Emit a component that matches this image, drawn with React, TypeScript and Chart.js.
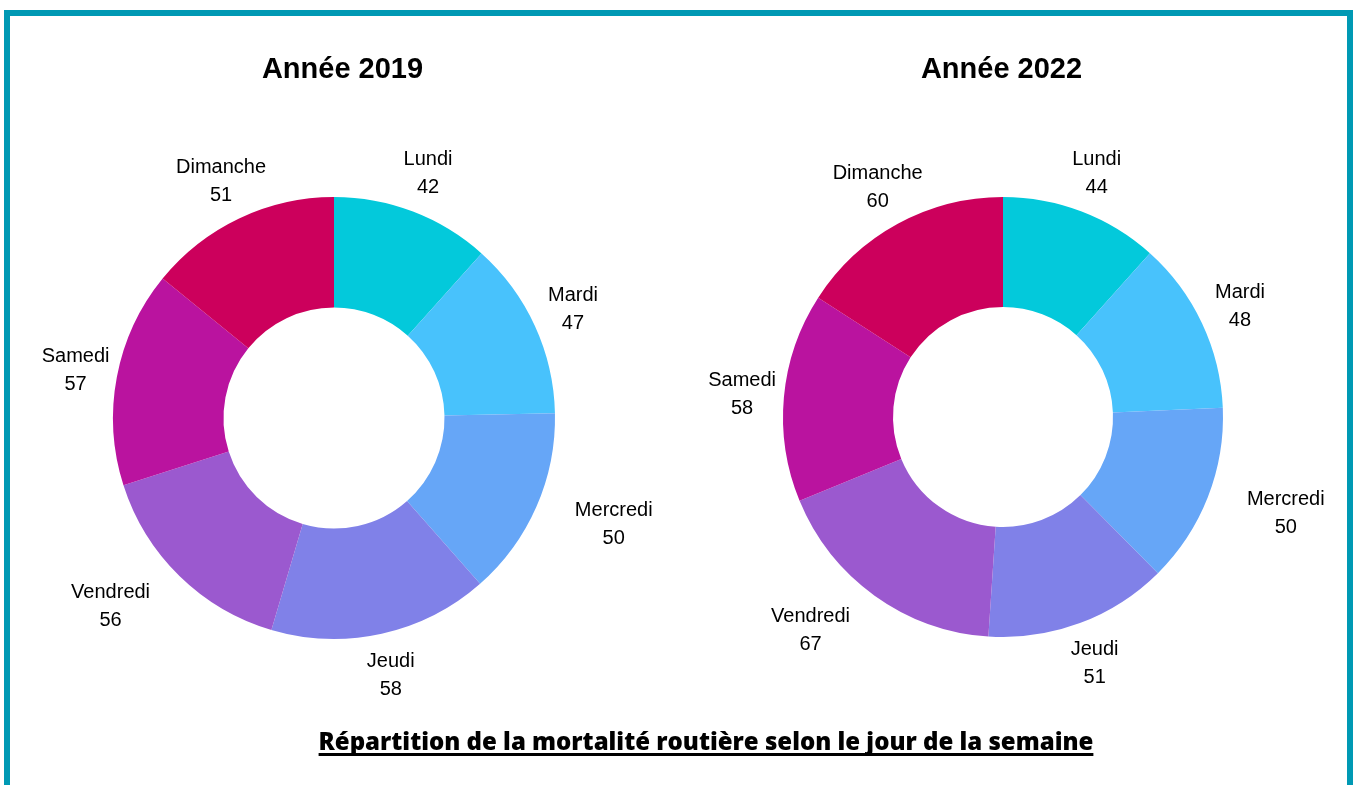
import React, { useEffect, useRef } from "react";
import { Chart, registerables } from "chart.js";

Chart.register(...registerables);

const days = ["Lundi", "Mardi", "Mercredi", "Jeudi", "Vendredi", "Samedi", "Dimanche"];
const values2019 = [42, 47, 50, 58, 56, 57, 51];
const values2022 = [44, 48, 50, 51, 67, 58, 60];
const dayColors = ["#03C9DB", "#48C2FC", "#66A6F7", "#8081E8", "#9B59CF", "#BA139F", "#CC005C"];

const LABEL_FONT = '20px "Liberation Sans", Arial, sans-serif';

const outsideLabels = {
  id: "outsideLabels",
  afterDatasetsDraw(chart: any) {
    const ctx = chart.ctx;
    const meta = chart.getDatasetMeta(0);
    const data = chart.data.datasets[0].data;
    const labels = chart.data.labels;
    ctx.save();
    ctx.font = LABEL_FONT;
    ctx.fillStyle = "#000";
    ctx.textBaseline = "middle";
    ctx.textAlign = "center";
    meta.data.forEach((arc: any, i: number) => {
      const p = arc.getProps(["startAngle", "endAngle", "x", "y", "outerRadius"], true);
      const mid = (p.startAngle + p.endAngle) / 2;
      const r = p.outerRadius + 42;
      let ax = p.x + Math.cos(mid) * r;
      const ay = p.y + Math.sin(mid) * r;
      let deg = ((mid + Math.PI / 2) * 180) / Math.PI;
      deg = ((deg % 360) + 360) % 360;
      const lines = [String(labels[i]), String(data[i])];
      const w = Math.max(...lines.map((l) => ctx.measureText(l).width));
      if (deg > 90 && deg < 150) ax += w / 2;
      else if (deg > 210 && deg < 270) ax -= w / 2;
      ctx.fillText(lines[0], ax, ay - 13);
      ctx.fillText(lines[1], ax, ay + 15);
    });
    ctx.restore();
  },
};

function Donut(props: { values: number[]; width: number; padding: any; left: number }) {
  const ref = useRef<HTMLCanvasElement>(null);
  useEffect(() => {
    if (!ref.current) return;
    const chart = new Chart(ref.current, {
      type: "doughnut",
      data: {
        labels: days,
        datasets: [
          {
            data: props.values,
            backgroundColor: dayColors,
            borderWidth: 0,
            hoverOffset: 0,
            offset: 0,
          },
        ],
      },
      options: {
        responsive: false,
        animation: false,
        cutout: "50%",
        layout: { padding: props.padding },
        plugins: { legend: { display: false }, tooltip: { enabled: false }, title: { display: false } },
      },
      plugins: [outsideLabels],
    });
    return () => chart.destroy();
  }, []);
  return (
    <canvas
      ref={ref}
      width={props.width}
      height={785}
      style={{ position: "absolute", left: props.left, top: 0, width: props.width, height: 785 }}
    />
  );
}

export default function App() {
  const titleStyle: React.CSSProperties = {
    position: "absolute",
    top: 52,
    height: 32,
    lineHeight: "32px",
    textAlign: "center",
    font: 'bold 29px "Liberation Sans", Arial, sans-serif',
    color: "#000",
  };
  return (
    <div
      style={{
        position: "fixed",
        left: 0,
        top: 0,
        width: 1358,
        height: 785,
        overflow: "hidden",
        background: "#fff",
      }}
    >
      <div
        style={{
          position: "absolute",
          left: 4,
          top: 10,
          width: 1349,
          height: 800,
          border: "6px solid #0099B4",
          boxSizing: "border-box",
        }}
      />
      <Donut values={values2019} width={680} left={0} padding={{ left: 113, right: 125, top: 197, bottom: 146 }} />
      <Donut values={values2022} width={678} left={680} padding={{ left: 103, right: 135, top: 197, bottom: 148 }} />
      <div style={{ ...titleStyle, left: 0, width: 685 }}>Année 2019</div>
      <div style={{ ...titleStyle, left: 685, width: 633 }}>Année 2022</div>
      <div
        style={{
          position: "absolute",
          left: 206,
          width: 1000,
          top: 724,
          lineHeight: "32px",
          textAlign: "center",
          whiteSpace: "nowrap",
          font: '800 24px "Open Sans", Lato, sans-serif',
          fontVariantLigatures: "none",
          color: "#000",
          textDecoration: "underline",
          textDecorationThickness: "2.5px",
          textUnderlineOffset: "3px",
          textDecorationSkipInk: "none",
        }}
      >
        Répartition de la mortalité routière selon le jour de la semaine
      </div>
    </div>
  );
}
